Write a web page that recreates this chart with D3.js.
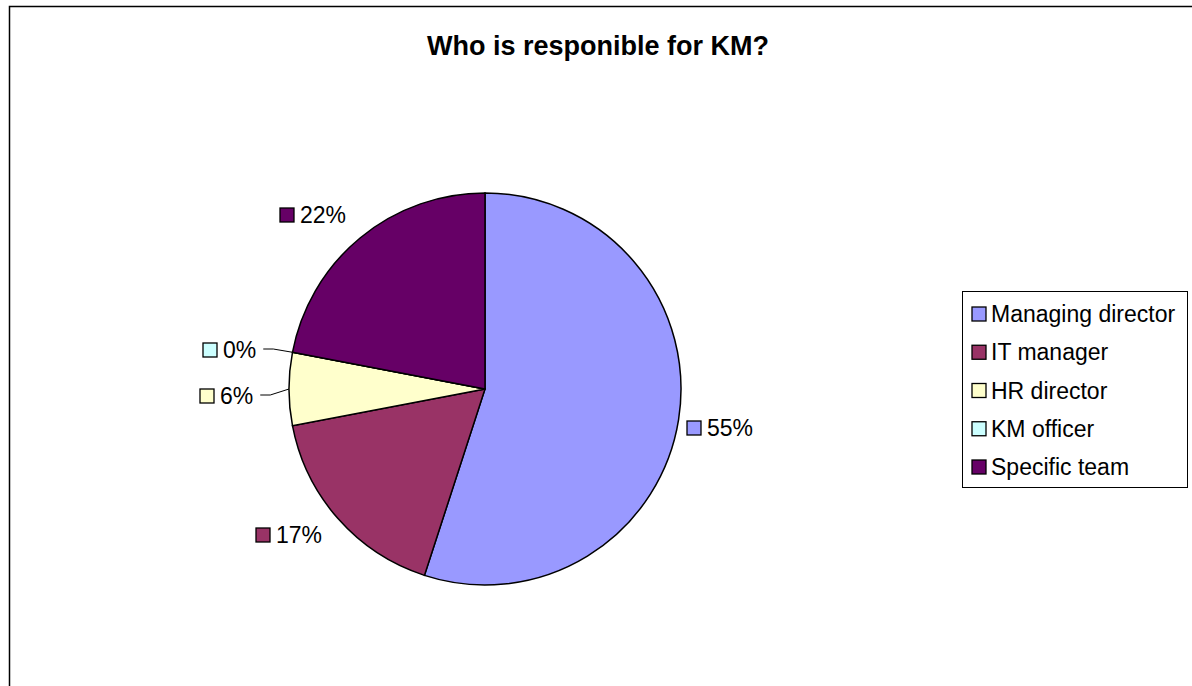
<!DOCTYPE html>
<meta charset="utf-8">
<style>
body { margin: 0; background: #fff; }
text { font-family: "Liberation Sans", Arial, sans-serif; fill: #000; }
</style>
<svg width="1192" height="686"></svg>
<script src="https://d3js.org/d3.v7.min.js"></script>
<script>

var categories = ["Managing director", "IT manager", "HR director", "KM officer", "Specific team"];
var values = [55, 17, 6, 0, 22];
var colors = ["#9999FF", "#993366", "#FFFFCC", "#CCFFFF", "#660066"];

var svg = d3.select("svg"),
    width = +svg.attr("width"),
    height = +svg.attr("height");

// chart frame, runs off right and bottom
svg.append("rect")
    .attr("x", 9.5).attr("y", 6.5)
    .attr("width", 1250).attr("height", 720)
    .attr("fill", "#fff")
    .attr("stroke", "#000")
    .attr("stroke-width", 1.5);

svg.append("text")
    .attr("x", 598).attr("y", 55)
    .attr("text-anchor", "middle")
    .style("font-size", "27px")
    .style("font-weight", "bold")
    .text("Who is responible for KM?");

var cx = 485, cy = 389, r = 196;

var pie = d3.pie().sort(null).value(d => d.v);
var data = pie(categories.map((c, i) => ({name: c, v: values[i], color: colors[i]})));
var arc = d3.arc().innerRadius(0).outerRadius(r);

var g = svg.append("g").attr("transform", "translate(" + cx + "," + cy + ")");

g.selectAll("path")
  .data(data)
  .enter().append("path")
    .attr("d", arc)
    .attr("fill", d => d.data.color)
    .attr("stroke", "#000")
    .attr("stroke-width", 1.5);

// data labels (box + percent), box centre positions
var labelPos = {
  "Managing director": {x: 694, y: 428},
  "IT manager": {x: 263, y: 535},
  "HR director": {x: 207, y: 396},
  "KM officer": {x: 210, y: 350},
  "Specific team": {x: 287, y: 215}
};
var leaders = {
  "HR director": 1,
  "KM officer": 1
};

data.forEach(function(d) {
  var p = labelPos[d.data.name];
  svg.append("rect")
    .attr("x", p.x - 7).attr("y", p.y - 7)
    .attr("width", 14).attr("height", 14)
    .attr("fill", d.data.color)
    .attr("stroke", "#000")
    .attr("stroke-width", 1.3);
  var t = svg.append("text")
    .attr("x", p.x + 13).attr("y", p.y + 8)
    .style("font-size", "23px")
    .text(d.data.v + "%");
  if (leaders[d.data.name]) {
    var mid = (d.startAngle + d.endAngle) / 2;
    var ex = cx + r * Math.sin(mid), ey = cy - r * Math.cos(mid);
    var x0 = p.x + 13 + t.node().getComputedTextLength() + 7;
    svg.append("path")
      .attr("d", "M" + x0 + "," + (p.y - 1) + "L" + (x0 + 10) + "," + (p.y - 1) + "L" + ex + "," + ey)
      .attr("fill", "none")
      .attr("stroke", "#000")
      .attr("stroke-width", 1);
  }
});

// legend
var legend = svg.append("g");
legend.append("rect")
    .attr("x", 962.5).attr("y", 291.5)
    .attr("width", 225).attr("height", 196)
    .attr("fill", "#fff")
    .attr("stroke", "#000")
    .attr("stroke-width", 1);

var ly = d3.scalePoint().domain(categories).range([314, 467]);

var item = legend.selectAll("g.item")
  .data(categories)
  .enter().append("g")
    .attr("class", "item")
    .attr("transform", d => "translate(972," + ly(d) + ")");

item.append("rect")
    .attr("x", 0).attr("y", -7)
    .attr("width", 14).attr("height", 14)
    .attr("fill", (d, i) => colors[i])
    .attr("stroke", "#000")
    .attr("stroke-width", 1.3);

item.append("text")
    .attr("x", 19).attr("y", 8)
    .style("font-size", "23px")
    .text(d => d);

</script>
